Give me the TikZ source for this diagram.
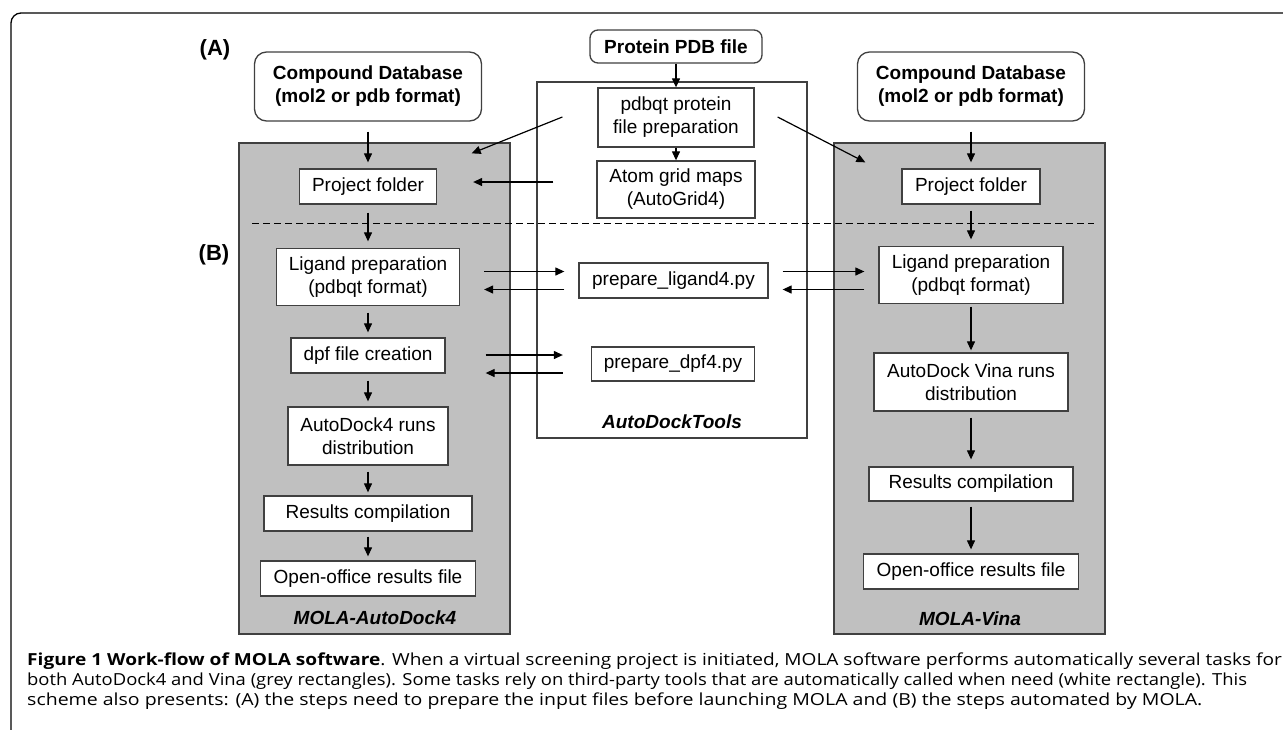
\documentclass[tikz,border=0pt]{standalone}
\usepackage{fontspec}
\setmainfont{Liberation Sans}
\newfontfamily\capfonta[FakeStretch=1.15]{Open Sans}
\newfontfamily\capfontb[FakeStretch=1.11]{Open Sans}
\newfontfamily\capfontc[FakeStretch=1.175]{Open Sans}
\usetikzlibrary{arrows.meta,calc}
\definecolor{boxgray}{HTML}{C0C0C0}
\definecolor{edgec}{HTML}{404040}
\begin{document}
\begin{tikzpicture}[x=1pt,y=-1pt,
  box/.style={draw=edgec, line width=1.3pt, fill=white, inner sep=0pt, align=center,
    font=\fontsize{19}{23}\selectfont},
  dbbox/.style={box, rounded corners=12pt, font=\bfseries\fontsize{19}{23}\selectfont},
  graybox/.style={draw=edgec, line width=1.3pt, fill=boxgray, inner sep=0pt},
  arr/.style={line width=1.2pt, -{Triangle[length=9pt,width=8pt]}},
  lbl/.style={font=\bfseries\fontsize{22}{26}\selectfont, inner sep=0pt},
  title/.style={font=\bfseries\itshape\fontsize{19}{23}\selectfont, inner sep=0pt},
  captxt/.style={anchor=base west, inner sep=0pt}
]
\useasboundingbox (0,0) rectangle (1283,729);
% outer frame
\draw[line width=1.3pt, rounded corners=10pt] (11,730) -- (11,13) -- (1284,13);

% containers
\node[box, minimum width=270pt, minimum height=356pt] (adt) at (672,260) {};
\node[graybox, minimum width=271pt, minimum height=491pt] (grayL) at (374.5,388.5) {};
\node[graybox, minimum width=271pt, minimum height=491pt] (grayR) at (969.5,388.5) {};

% dashed separator
\draw[line width=1pt, dash pattern=on 7pt off 4pt] ($(grayL.north west)+(14,81)$) -- ($(grayR.north east)+(-12,81)$);

% labels
\node[lbl] (labA) at (215,50) {(A)};
\node[lbl] (labB) at (214,255) {(B)};
\node[title] (tADT) at (672,422) {AutoDockTools};
\node[title] (tL) at (375,618) {MOLA-AutoDock4};
\node[title] (tR) at (970,619) {MOLA-Vina};

% top inputs
\node[dbbox, minimum width=227pt, minimum height=69pt] (cdbL) at (368,86.5) {Compound Database\\(mol2 or pdb format)};
\node[dbbox, minimum width=227pt, minimum height=69pt] (cdbR) at (971,86.5) {Compound Database\\(mol2 or pdb format)};
\node[dbbox, rounded corners=8pt, minimum width=172pt, minimum height=33pt] (protein) at (676,46.5) {Protein PDB file};

% middle column
\node[box, minimum width=156pt, minimum height=59pt] (pdbqt) at (676,117.5) {pdbqt protein\\file preparation};
\node[box, minimum width=158pt, minimum height=57pt] (atom) at (676,189.5) {Atom grid maps\\(AutoGrid4)};
\node[box, minimum width=189pt, minimum height=35pt] (pl4) at (673.5,280.5) {prepare\_ligand4.py};
\node[box, minimum width=163pt, minimum height=34pt] (pd4) at (673,364) {prepare\_dpf4.py};

% left column
\node[box, minimum width=137pt, minimum height=35pt] (projL) at (368,186.5) {Project folder};
\node[box, minimum width=183pt, minimum height=57pt] (ligL) at (368,277) {Ligand preparation\\(pdbqt format)};
\node[box, minimum width=154pt, minimum height=35pt] (dpf) at (368,355.5) {dpf file creation};
\node[box, minimum width=160pt, minimum height=58pt] (ad4) at (368,436) {AutoDock4 runs\\distribution};
\node[box, minimum width=208pt, minimum height=35pt] (resL) at (368,513.5) {Results compilation};
\node[box, minimum width=215pt, minimum height=35pt] (openL) at (368,578.5) {Open-office results file};

% right column
\node[box, minimum width=138pt, minimum height=35pt] (projR) at (971,186.5) {Project folder};
\node[box, minimum width=184pt, minimum height=57pt] (ligR) at (971,275) {Ligand preparation\\(pdbqt format)};
\node[box, minimum width=194pt, minimum height=58pt] (vina) at (971,382) {AutoDock Vina runs\\distribution};
\node[box, minimum width=204pt, minimum height=34pt] (resR) at (971,484) {Results compilation};
\node[box, minimum width=215pt, minimum height=35pt] (openR) at (971,571.5) {Open-office results file};

% vertical arrows
\draw[arr, shorten <=10pt, shorten >=6pt] (cdbL.south) -- (projL.north);
\draw[arr, shorten <=8pt, shorten >=6.5pt] (projL.south) -- (ligL.north);
\draw[arr, shorten <=6.5pt, shorten >=5pt] (ligL.south) -- (dpf.north);
\draw[arr, shorten <=7pt, shorten >=5pt] (dpf.south) -- (ad4.north);
\draw[arr, shorten <=6pt, shorten >=3pt] (ad4.south) -- (resL.north);
\draw[arr, shorten <=5pt, shorten >=4pt] (resL.south) -- (openL.north);

\draw[arr, shorten <=10pt, shorten >=6pt] (cdbR.south) -- (projR.north);
\draw[arr, shorten <=6pt, shorten >=6.5pt] (projR.south) -- (ligR.north);
\draw[arr, shorten <=2.5pt, shorten >=2pt] (ligR.south) -- (vina.north);
\draw[arr, shorten <=6pt, shorten >=7pt] (vina.south) -- (resR.north);
\draw[arr, shorten <=5pt, shorten >=4pt] (resR.south) -- (openR.north);

\draw[arr] (protein.south) -- (pdbqt.north);
\draw[arr] (pdbqt.south) -- (atom.north);

% diagonal and horizontal arrows from AutoDockTools
\draw[arr] ($(pdbqt.west)+(-35,-0.5)$) -- ($(grayL.north east)+(-39,11)$);
\draw[arr] ($(pdbqt.east)+(23,-0.5)$) -- ($(grayR.north west)+(32,20)$);
\draw[arr] ($(atom.west)+(-43,-7.5)$) -- ($(projL.east)+(36,-4.5)$);

\draw[arr] ($(ligL.east|-pl4.west)+(24,-9)$) -- ($(pl4.west)+(-14,-9)$);
\draw[arr] ($(pl4.west)+(-14,9)$) -- ($(ligL.east|-pl4.west)+(24,9)$);
\draw[arr] ($(pl4.east)+(14,-9)$) -- ($(ligR.west|-pl4.east)+(-14,-9)$);
\draw[arr] ($(ligR.west|-pl4.east)+(-14,9)$) -- ($(pl4.east)+(14,9)$);

\draw[arr] ($(dpf.east|-pd4.west)+(40,-9)$) -- ($(pd4.west)+(-28,-9)$);
\draw[arr] ($(pd4.west)+(-28,9)$) -- ($(dpf.east|-pd4.west)+(40,9)$);

% caption
\node[captxt, font=\capfonta\fontsize{16.6}{20}\selectfont] (cap1) at (27,665) {\textbf{Figure 1 Work-flow of MOLA software}. When a virtual screening project is initiated, MOLA software performs automatically several tasks for};
\node[captxt, font=\capfontb\fontsize{16.6}{20}\selectfont] (cap2) at (27,685) {both AutoDock4 and Vina (grey rectangles). Some tasks rely on third-party tools that are automatically called when need (white rectangle). This};
\node[captxt, font=\capfontc\fontsize{16.6}{20}\selectfont] (cap3) at (27,705) {scheme also presents: (A) the steps need to prepare the input files before launching MOLA and (B) the steps automated by MOLA.};
\end{tikzpicture}
\end{document}
